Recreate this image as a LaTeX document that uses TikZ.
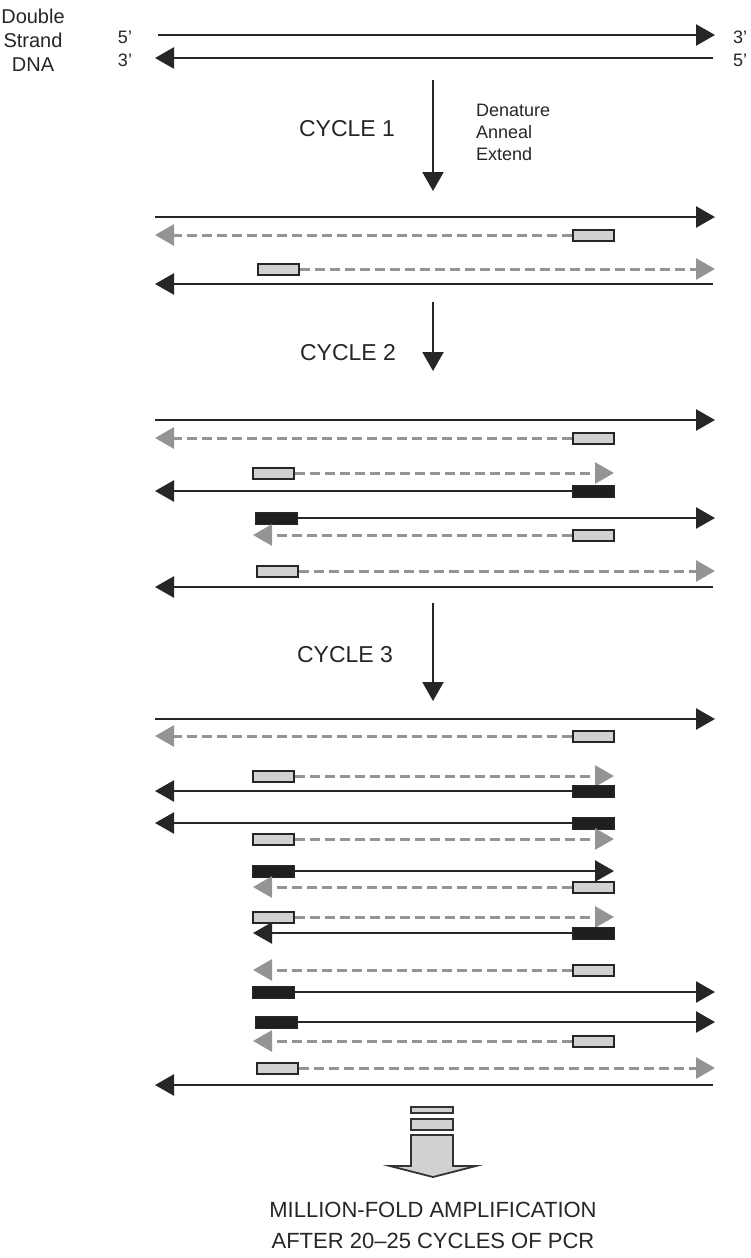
\documentclass[tikz,border=0pt]{standalone}
\usepackage{fontspec}
\setmainfont{Liberation Sans}
\usetikzlibrary{arrows.meta}
\tikzset{
  lbl/.style={font=\fontsize{18}{21}\selectfont, text=black!85, inner sep=0pt},
  cyclbl/.style={font=\fontsize{23}{26}\selectfont, text=black!85, inner sep=0pt},
  reslbl/.style={font=\fontsize{22}{26}\selectfont, text=black!85, inner sep=0pt},
  smalllbl/.style={font=\fontsize{18}{22}\selectfont, text=black!85, inner sep=0pt, align=left, anchor=north west},
  bstrand/.style={draw=black!85, line width=2.5pt, -{Triangle[length=19pt,width=21pt]}},
  gstrand/.style={draw=black!42, line width=3pt, dash pattern=on 10pt off 5pt, -{Triangle[length=19pt,width=21pt]}},
  gprimer/.style={draw=black!85, fill=black!18, line width=2pt, minimum width=41pt, minimum height=11pt, inner sep=0pt},
  bprimer/.style={draw=black!85, fill=black!88, line width=0.8pt, minimum width=42pt, minimum height=12pt, inner sep=0pt},
  cycarrow/.style={draw=black!85, line width=2.2pt, -{Triangle[length=19pt,width=21pt]}},
  blockarrow/.style={draw=black!80, fill=black!18, line width=1.8pt},
}
% solid strands
\newcommand\SR[4]{\coordinate (#1s) at (#3,#2); \coordinate (#1t) at (#4,#2); \draw[bstrand] (#1s) -- (#1t);}
% gray strand pointing left from a right primer: name, y, tip x
\newcommand\GL[3]{\node[gprimer] (#1) at (593,#2) {}; \coordinate (#1t) at (#3,#2); \draw[gstrand] (#1.west) -- (#1t);}
% gray strand pointing right from a left primer: name, y, primer center x, tip x
\newcommand\GR[4]{\node[gprimer] (#1) at (#3,#2) {}; \coordinate (#1t) at (#4,#2); \draw[gstrand] (#1.east) -- (#1t);}
% black strand pointing left from black right primer: name, y, tip x
\newcommand\BL[3]{\node[bprimer] (#1) at (593,#2) {}; \coordinate (#1t) at (#3,#2); \draw[bstrand] (#1.west) -- (#1t);}
% black strand pointing right from black left primer: name, y, primer center x, tip x
\newcommand\BR[4]{\node[bprimer] (#1) at (#3,#2) {}; \coordinate (#1t) at (#4,#2); \draw[bstrand] (#1.east) -- (#1t);}
\begin{document}
\begin{tikzpicture}[x=1pt,y=-1pt]
\useasboundingbox (0,0) rectangle (751,1258);
% header
\node[lbl, align=center, font=\fontsize{20}{24}\selectfont] (dsdna) at (33,40) {Double\\Strand\\DNA};
\node[lbl] (l5a) at (125,37) {5'};
\node[lbl] (l3a) at (125,60) {3'};
\node[lbl] (r3a) at (740,37) {3'};
\node[lbl] (r5a) at (740,60) {5'};
\SR{d1}{35}{158}{715}
\SR{d2}{58}{713}{155}
% cycle 1 arrow
\coordinate (c1a) at (433,80); \coordinate (c1b) at (433,191);
\draw[cycarrow] (c1a) -- (c1b);
\node[cyclbl] (cy1) at (347,129) {CYCLE 1};
\node[smalllbl] (dae) at (476,104) {Denature\\Anneal\\Extend};
% cycle 1 products
\SR{a1}{217}{155}{715}
\GL{a2}{235}{155}
\GR{a3}{269}{278}{715}
\SR{a4}{284}{713}{155}
% cycle 2 arrow
\coordinate (c2a) at (433,302); \coordinate (c2b) at (433,371);
\draw[cycarrow] (c2a) -- (c2b);
\node[cyclbl] (cy2) at (348,353) {CYCLE 2};
% cycle 2 products
\SR{b1}{420}{155}{715}
\GL{b2}{438}{155}
\GR{b3}{473}{273}{614}
\BL{b4}{491}{155}
\BR{b5}{518}{276}{715}
\GL{b6}{535}{253}
\GR{b7}{571}{277}{715}
\SR{b8}{587}{713}{155}
% cycle 3 arrow
\coordinate (c3a) at (433,603); \coordinate (c3b) at (433,701);
\draw[cycarrow] (c3a) -- (c3b);
\node[cyclbl] (cy3) at (345,655) {CYCLE 3};
% cycle 3 products
\SR{e1}{719}{155}{715}
\GL{e2}{736}{155}
\GR{e3}{776}{273}{614}
\BL{e4}{791}{155}
\BL{e5}{823}{155}
\GR{e6}{839}{273}{614}
\BR{e7}{871}{273}{614}
\GL{e8}{887}{253}
\GR{e9}{917}{273}{614}
\BL{e10}{933}{253}
\GL{e11}{970}{253}
\BR{e12}{992}{273}{715}
\BR{e13}{1022}{276}{715}
\GL{e14}{1041}{253}
\GR{e15}{1068}{277}{715}
\SR{e16}{1085}{713}{155}
% block arrow
\draw[blockarrow] (411,1107) rectangle (453,1113);
\draw[blockarrow] (411,1119) rectangle (453,1130);
\draw[blockarrow, line join=miter] (411,1135) -- (453,1135) -- (453,1166) -- (476,1166) -- (433,1177) -- (390,1166) -- (411,1166) -- cycle;
\node[reslbl] (res1) at (433,1210) {MILLION-FOLD AMPLIFICATION};
\node[reslbl] (res2) at (433,1241) {AFTER 20–25 CYCLES OF PCR};
\end{tikzpicture}
\end{document}
